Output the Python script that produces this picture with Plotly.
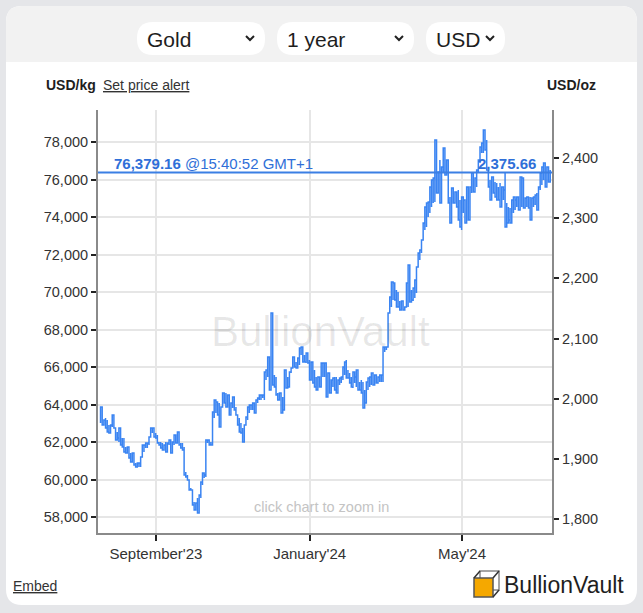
import pandas as pd
import plotly.graph_objects as go

# ---------------- data (USD per kg) ----------------
start_date = "2023-07-19"
end_date = "2024-07-10"

high_kg = [
    63870, 63170, 63170, 63280, 63170, 62910, 62910, 63440, 63170, 62750,
    62530, 62750, 62370, 62210, 62210, 61730, 61730, 61570, 61410, 61410,
    61200, 60880, 60880, 60880, 61200, 61840, 61840, 61950, 61950, 62270,
    62750, 62750, 62480, 62480, 62370, 62000, 62000, 61950, 61840, 62000,
    61950, 62110, 61950, 62000, 62370, 62210, 62530, 62000, 61950, 61950,
    61730, 60400, 60240, 59970, 59550, 59440, 58800, 58750, 59010, 59170,
    59870, 60350, 60240, 62110, 62110, 62110, 62000, 63600, 64240, 64130,
    63870, 64080, 63870, 64610, 64610, 64610, 64510, 64350, 64080, 64400,
    64080, 63870, 63440, 63280, 63010, 62750, 62910, 63330, 63870, 63970,
    63970, 64080, 63870, 64240, 64350, 64510, 64510, 64510, 65730, 65840,
    66530, 66210, 68880, 65470, 65570, 65470, 64610, 64610, 64610, 64400,
    65840, 65840, 65470, 65730, 65950, 66530, 66370, 66270, 66480, 67010,
    67070, 66800, 66640, 66750, 66370, 66370, 66270, 65840, 65840, 65470,
    65470, 65200, 66210, 66210, 66210, 66000, 65680, 65470, 65310, 65410,
    65470, 65470, 65310, 65410, 65470, 66000, 66270, 66370, 65840, 65680,
    65470, 65730, 65470, 65840, 65470, 65200, 65310, 65200, 64770, 65200,
    65410, 65470, 65680, 65470, 65570, 65470, 65470, 65570, 65570, 67070,
    67070, 67070, 68880, 69730, 70530, 70480, 70270, 70110, 70000, 69520,
    69520, 69200, 69200, 70480, 71440, 70270, 70110, 70210, 70640, 71330,
    72080, 72240, 72770, 73680, 74530, 74750, 74800, 75600, 75970, 76080,
    78110, 76670, 76400, 77040, 76670, 77680, 77200, 77040, 75600, 75070,
    75550, 75440, 75330, 75280, 75440, 74910, 75070, 74910, 74910, 75600,
    75440, 75600, 76350, 75970, 76080, 76510, 77040, 77730, 77950, 78640,
    78210, 78110, 76510, 75970, 76130, 75970, 75870, 75810, 75600, 75810,
    75600, 75440, 76400, 74750, 74530, 74480, 74910, 75070, 74910, 75070,
    75010, 76130, 76080, 74910, 75010, 75070, 74910, 75070, 75010, 75070,
    75170, 75280, 75600, 76350, 76670, 76880, 76670, 76670, 76670, 76510,
]
low_kg = [
    63010, 62910, 62910, 62750, 62530, 62480, 62480, 62800, 62750, 62110,
    62210, 62000, 61840, 61730, 61470, 61410, 61410, 61150, 60930, 60930,
    60770, 60670, 60670, 60670, 60670, 61200, 61470, 61680, 61680, 61840,
    62270, 62480, 62270, 62210, 61950, 61840, 61680, 61570, 61680, 61470,
    61680, 61840, 61410, 61840, 61840, 61950, 61950, 61840, 61680, 61570,
    60240, 60130, 59970, 59440, 59440, 58640, 58370, 58480, 58210, 58640,
    59010, 59710, 60080, 60130, 61950, 61840, 61840, 61950, 63280, 63550,
    63440, 62800, 63440, 64240, 64080, 63870, 64240, 63440, 63710, 63810,
    63710, 63440, 62910, 62530, 62480, 62000, 62270, 62910, 63170, 63550,
    63710, 63710, 63550, 63710, 64080, 64240, 64240, 64350, 64240, 65310,
    65470, 64770, 65200, 65040, 64930, 64510, 64240, 64350, 63550, 63710,
    64930, 64880, 64930, 65040, 65680, 66000, 66000, 65950, 66000, 66110,
    66640, 66270, 66270, 66210, 66210, 65310, 65410, 65150, 64930, 64770,
    64930, 64930, 65470, 65470, 65470, 64400, 65150, 64610, 64880, 64930,
    64770, 64610, 64880, 65040, 65150, 65310, 65570, 65410, 65410, 65150,
    64930, 64880, 65150, 64930, 64770, 64770, 64610, 63810, 64080, 64670,
    64770, 64930, 65040, 65040, 65150, 65150, 65200, 65200, 65200, 65200,
    66800, 66910, 67070, 68880, 69200, 69570, 69570, 69200, 69200, 69040,
    69150, 69040, 69040, 69200, 69200, 69470, 69570, 69520, 69680, 69950,
    71550, 71710, 72080, 72930, 73310, 73470, 74000, 74210, 74530, 74750,
    74800, 75280, 75870, 74750, 76130, 76350, 76240, 76400, 74750, 73680,
    74910, 74750, 75010, 74530, 73840, 73470, 73310, 74210, 73680, 74530,
    73840, 75070, 75280, 75330, 75710, 75600, 76350, 76880, 77410, 77410,
    77570, 76510, 75600, 74910, 75440, 75280, 75070, 74910, 74910, 74530,
    74750, 74910, 73470, 73680, 73840, 73680, 74000, 74210, 74370, 74530,
    74370, 74370, 74530, 74480, 74480, 74530, 74480, 73840, 74530, 74530,
    74640, 74370, 74750, 75440, 75710, 75970, 75600, 76080, 75870, 76240,
]

price_kg = 76379.16
price_oz = 2375.66
price_time = "15:40:52 GMT+1"
OZ_PER_KG = 32.1507

kg_ticks = [58000, 60000, 62000, 64000, 66000, 68000, 70000, 72000, 74000, 76000, 78000]
oz_ticks = [1800, 1900, 2000, 2100, 2200, 2300, 2400]
x_tick_dates = ["2023-09-01", "2024-01-01", "2024-05-01"]
x_tick_labels = ["September'23", "January'24", "May'24"]
selectors = ["Gold", "1 year", "USD"]

# ---------------- geometry helpers ----------------
W, H = 643, 613
L, R, T, B = 98, 91, 110, 80
PW, PH = W - L - R, H - T - B
PAGE_BG = "#e5e6e9"


def px(x):
    return (x - L) / PW


def py(y):
    return (H - B - y) / PH


def rrect(x0, y0, x1, y1, r, top_only=False):
    rb = 0 if top_only else r
    pts = [
        f"M {px(x0 + r)} {py(y0)}",
        f"L {px(x1 - r)} {py(y0)}",
        f"Q {px(x1)} {py(y0)} {px(x1)} {py(y0 + r)}",
        f"L {px(x1)} {py(y1 - rb)}",
        f"Q {px(x1)} {py(y1)} {px(x1 - rb)} {py(y1)}" if rb else "",
        f"L {px(x0 + rb)} {py(y1)}",
        f"Q {px(x0)} {py(y1)} {px(x0)} {py(y1 - rb)}" if rb else "",
        f"L {px(x0)} {py(y0 + r)}",
        f"Q {px(x0)} {py(y0)} {px(x0 + r)} {py(y0)}",
        "Z",
    ]
    return " ".join(p for p in pts if p)


# ---------------- build series ----------------
dates = pd.date_range(start_date, end_date, periods=len(high_kg))
xs, ys = [], []
prev_mid = None
for d, hi, lo in zip(dates, high_kg, low_kg):
    mid = (hi + lo) / 2
    seq = (lo, hi) if (prev_mid is None or mid >= prev_mid) else (hi, lo)
    xs += [d, d]
    ys += list(seq)
    prev_mid = mid

FONT = "Liberation Sans, Arial, sans-serif"
BLUE = "#3a84f2"

fig = go.Figure()
fig.add_trace(go.Scatter(x=xs, y=ys, mode="lines", line=dict(color=BLUE, width=1.5, shape="hv"),
                         hoverinfo="skip", showlegend=False))
fig.add_trace(go.Scatter(x=[dates[-1]], y=[price_oz], yaxis="y2", mode="markers",
                         marker=dict(opacity=0), hoverinfo="skip", showlegend=False))

y_lo, y_hi = 57147, 79707
axis_common = dict(showline=True, linecolor="#8a8a8a", linewidth=2, ticks="outside",
                   tickcolor="#222", tickwidth=2, zeroline=False, automargin=False)
yfont = dict(family=FONT, size=14.5, color="#333")

fig.update_layout(
    width=W, height=H,
    margin=dict(l=L, r=R, t=T, b=B, pad=0),
    paper_bgcolor=PAGE_BG,
    plot_bgcolor="rgba(0,0,0,0)",
    showlegend=False,
    font=dict(family=FONT),
    xaxis=dict(type="date", range=["2023-07-17", "2024-07-11 10:00"],
               tickvals=x_tick_dates, ticktext=x_tick_labels, ticklen=6,
               tickfont=dict(family=FONT, size=15, color="#333"),
               showgrid=True, gridcolor="#e6e6e6", gridwidth=1.5, **axis_common),
    yaxis=dict(range=[y_lo, y_hi], tickvals=kg_ticks, tickformat=",", ticklen=5, tickfont=yfont,
               showgrid=True, gridcolor="#e6e6e6", gridwidth=1.5, **axis_common),
    yaxis2=dict(range=[y_lo / OZ_PER_KG, y_hi / OZ_PER_KG], overlaying="y", side="right",
                tickvals=oz_ticks, tickformat=",", ticklen=5, tickfont=yfont,
                showgrid=False, **axis_common),
)

shapes = []
# card
shapes.append(dict(type="path", xref="paper", yref="paper", path=rrect(6, 6, 637, 605, 16),
                   fillcolor="white", line=dict(width=0), layer="below"))
# header band
shapes.append(dict(type="path", xref="paper", yref="paper", path=rrect(6, 6, 637, 62, 16, top_only=True),
                   fillcolor="#f2f2f2", line=dict(width=0), layer="below"))
# selector pills
pills = [(137, 265), (277, 414), (426, 505)]
for (x0, x1) in pills:
    shapes.append(dict(type="path", xref="paper", yref="paper", path=rrect(x0, 22, x1, 55, 16),
                       fillcolor="white", line=dict(width=0), layer="below"))
    cx = x1 - 15
    shapes.append(dict(type="path", xref="paper", yref="paper",
                       path=f"M {px(cx - 4)} {py(36)} L {px(cx)} {py(40)} L {px(cx + 4)} {py(36)}",
                       line=dict(color="#222", width=2)))
# current price line
shapes.append(dict(type="line", xref="paper", x0=0, x1=1, yref="y", y0=price_kg, y1=price_kg,
                   line=dict(color="#3b7fe4", width=2), layer="above"))
# logo cube
shapes.append(dict(type="rect", xref="paper", yref="paper", x0=px(480), x1=px(499), y0=py(590), y1=py(571),
                   line=dict(color="#888", width=1.5), fillcolor="rgba(0,0,0,0)"))
shapes.append(dict(type="rect", xref="paper", yref="paper", x0=px(474), x1=px(493), y0=py(597), y1=py(578),
                   line=dict(color="#555", width=1.5), fillcolor="#f5a800"))
for (a, b, c, d) in [(474, 578, 480, 571), (493, 578, 499, 571), (493, 597, 499, 590)]:
    shapes.append(dict(type="line", xref="paper", yref="paper", x0=px(a), y0=py(b), x1=px(c), y1=py(d),
                       line=dict(color="#333", width=1.5)))
fig.update_layout(shapes=shapes)


def ann(text, x, y, size, color, xanchor="left", yanchor="middle", **kw):
    fig.add_annotation(text=text, x=px(x), y=py(y), xref="paper", yref="paper",
                       xanchor=xanchor, yanchor=yanchor, showarrow=False,
                       font=dict(family=FONT, size=size, color=color), **kw)


# selector labels
for (x0, x1), label in zip(pills, selectors):
    ann(label, x0 + 8, 39, 21, "#1e1e1e")

ann("<b>USD/kg</b>", 44, 85, 14, "#1e1e1e")
ann("<u>Set price alert</u>", 101, 85, 14, "#333")
ann("<b>USD/oz</b>", 598, 85, 14, "#1e1e1e", xanchor="right")

ann(f"<b>{price_kg:,.2f}</b> @{price_time}", 112, 163, 15, "#2f6fd8")
ann(f"<b>{price_oz:,.2f}</b>", 538, 163, 15, "#2f6fd8", xanchor="right")

ann("BullionVault", 320, 331, 42, "rgba(0,0,0,0.09)", xanchor="center")
ann("click chart to zoom in", 321, 507, 14.5, "#c4c4c4", xanchor="center")

ann("<u>Embed</u>", 11, 586, 14, "#333")
ann("BullionVault", 502, 585, 23, "#1e1e1e")

fig.write_html(
    "out.html",
    config={"displayModeBar": False},
    post_script=(
        "document.body.style.margin='0';"
        "document.body.style.padding='0';"
        f"document.body.style.background='{PAGE_BG}';"
    ),
)
